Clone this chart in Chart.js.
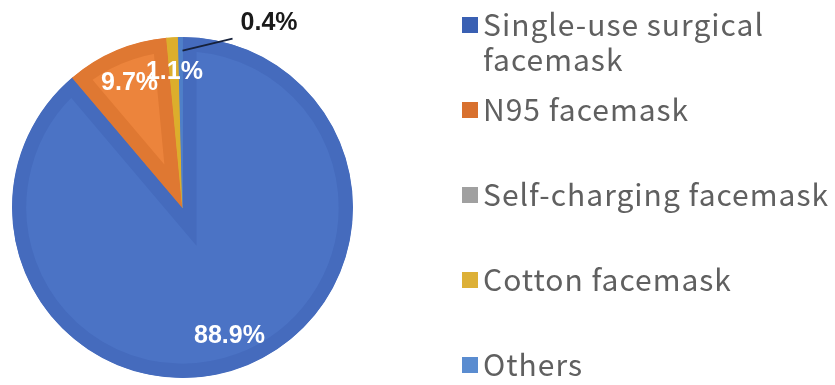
<!DOCTYPE html>
<html>
<head>
<meta charset="utf-8">
<script src="https://cdn.jsdelivr.net/npm/chart.js@4.4.0/dist/chart.umd.min.js"></script>
<style>
  html, body { margin: 0; padding: 0; background: #ffffff; }
  #wrap { width: 835px; height: 385px; }
</style>
</head>
<body>
<div id="wrap"><canvas id="maskChart"></canvas></div>
<script>
// facemask types and their share of respondents (%)
const mask_types = ['Single-use surgical facemask', 'N95 facemask', 'Self-charging facemask', 'Cotton facemask', 'Others'];
const legend_lines = [['Single-use surgical', 'facemask'], ['N95 facemask'], ['Self-charging facemask'], ['Cotton facemask'], ['Others']];
const shares = [88.9, 9.7, 0, 1.1, 0.4];

const fill_colors = ['#4b73c5', '#ec843c', '#a5a5a5', '#e4b534', '#5283cb'];
const rim_colors  = ['#456bbd', '#df7832', '#999999', '#dcae2c', '#4f7fc8'];
const key_colors  = ['#3a60b3', '#d8702e', '#a0a0a0', '#ddb036', '#5a8cd0'];

// percentage text on each slice, leader line for the tiny ones
const slice_labels = {
    id: 'slice_labels',
    afterDatasetsDraw(chart) {
        let ctx = chart.ctx;
        let meta = chart.getDatasetMeta(0);
        meta.data.forEach((arc, i) => {
            let v = shares[i];
            if (!v) return;
            let p = arc.getProps(['x', 'y', 'startAngle', 'endAngle', 'outerRadius'], true);
            let mid = (p.startAngle + p.endAngle) / 2;
            let text = v.toFixed(1) + '%';
            ctx.save();
            ctx.font = 'bold 25px "Liberation Sans", Arial, sans-serif';
            ctx.textBaseline = 'middle';
            if (v < 1) {
                let r1 = p.outerRadius * 0.92;
                let sx = p.x + Math.cos(mid) * r1 + 2;
                let sy = p.y + Math.sin(mid) * r1;
                let ex = sx + 50, ey = sy - 12;
                ctx.strokeStyle = '#16213a';
                ctx.lineWidth = 2;
                ctx.beginPath();
                ctx.moveTo(sx, sy);
                ctx.lineTo(ex, ey);
                ctx.stroke();
                ctx.fillStyle = '#1a1a1a';
                ctx.textAlign = 'left';
                ctx.fillText(text, ex + 8, ey - 16);
            } else {
                let r = p.outerRadius * 0.8;
                ctx.fillStyle = '#ffffff';
                ctx.textAlign = 'center';
                ctx.fillText(text, p.x + Math.cos(mid) * r, p.y + Math.sin(mid) * r + 1);
            }
            ctx.restore();
        });
    }
};

// legend column on the right, evenly spaced keys
const side_legend = {
    id: 'side_legend',
    afterDraw(chart) {
        let ctx = chart.ctx;
        ctx.save();
        ctx.font = '30px "Noto Sans CJK SC", sans-serif';
        ctx.letterSpacing = '1px';
        ctx.textBaseline = 'middle';
        ctx.textAlign = 'left';
        legend_lines.forEach((lines, i) => {
            let cy = 25 + i * 85;
            ctx.fillStyle = key_colors[i];
            ctx.fillRect(462, cy - 8, 16, 16);
            ctx.fillStyle = '#606060';
            lines.forEach((t, j) => ctx.fillText(t, 483, cy + j * 35));
        });
        ctx.restore();
    }
};

let ctx = document.getElementById('maskChart').getContext('2d');
let chart = new Chart(ctx, {
    type: 'pie',
    data: {
        labels: mask_types,
        datasets: [{
            data: shares,
            backgroundColor: fill_colors,
            borderColor: rim_colors,
            borderWidth: 14,
            borderAlign: 'inner',
            borderJoinStyle: 'miter'
        }]
    },
    options: {
        responsive: true,
        maintainAspectRatio: false,
        animation: false,
        layout: { padding: { left: 12, right: 482, top: 37, bottom: 7 } },
        plugins: {
            legend: { display: false },
            tooltip: { enabled: false }
        }
    },
    plugins: [slice_labels, side_legend]
});
</script>
</body>
</html>
